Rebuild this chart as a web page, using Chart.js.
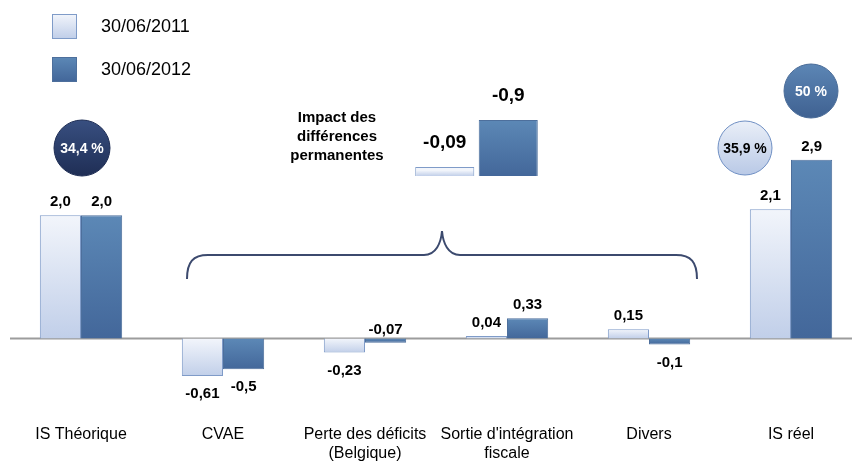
<!DOCTYPE html>
<html>
<head>
<meta charset="utf-8">
<script src="https://cdn.jsdelivr.net/npm/chart.js@4"></script>
<style>
    html, body { margin: 0; padding: 0; background: #fff; overflow: hidden; }
    #wrap { position: relative; width: 852px; height: 462px; overflow: hidden; }
    #main { position: absolute; left: 0; top: 0; }
    #impact { position: absolute; left: 413px; top: 80px; }
    #impactTitle {
        position: absolute; left: 257px; top: 107px; width: 160px;
        text-align: center; font: bold 15px 'Liberation Sans', Arial, sans-serif;
        line-height: 19px; color: #000;
    }
</style>
</head>
<body>
<div id="wrap">
    <canvas id="main" width="862" height="462"></canvas>
    <canvas id="impact" width="127" height="96"></canvas>
    <div id="impactTitle"></div>
</div>
<script>
(function () {
    'use strict';

    // Chart data
    var CATEGORIES = ['IS Théorique', 'CVAE', ['Perte des déficits', '(Belgique)'], ["Sortie d'intégration", 'fiscale'], 'Divers', 'IS réel'];
    var SERIES_NAMES = ['30/06/2011', '30/06/2012'];
    var VALUES_2011 = [2.0, -0.61, -0.23, 0.04, 0.15, 2.1];
    var VALUES_2012 = [2.0, -0.5, -0.07, 0.33, -0.1, 2.9];
    var IMPACT_VALUES = [-0.09, -0.9];
    var IMPACT_TITLE = ['Impact des', 'différences', 'permanentes'];
    var RATE_TEXTS = ['34,4 %', '35,9 %', '50 %'];

    var FONT = "'Liberation Sans', Arial, sans-serif";
    var LIGHT = { top: '#f2f5fb', bottom: '#c1cfe9', border: '#7f9bc8' };
    var DARK = { top: '#5c88b6', bottom: '#43679a', border: '#4d6f9c' };

    // Rate bubbles (pixel placement, style)
    var RATE_STYLE = [
        { x: 82, y: 148, r: 28, top: '#384f80', bottom: '#1f2e55', border: '#1f2e55', text: '#fff' },
        { x: 745, y: 148, r: 27, top: '#eaeff8', bottom: '#b9c9e6', border: '#6f8fc3', text: '#000' },
        { x: 811, y: 91, r: 27, top: '#5c86b5', bottom: '#3f6191', border: '#4a6c98', text: '#fff' }
    ];

    document.getElementById('impactTitle').innerHTML = IMPACT_TITLE.join('<br>');

    function fmt(v) {
        var s = Number.isInteger(v) ? v.toFixed(1) : String(v);
        return s.replace('.', ',');
    }

    function barFill(pal, absolute) {
        return function (ctx) {
            var chart = ctx.chart;
            if (!chart.chartArea || ctx.type !== 'data') return pal.bottom;
            var y = chart.scales.y;
            var v = absolute ? Math.abs(ctx.raw) : ctx.raw;
            var top = y.getPixelForValue(Math.max(v, 0));
            var bottom = y.getPixelForValue(Math.min(v, 0));
            if (bottom - top < 2) top = bottom - 9;
            var g = chart.ctx.createLinearGradient(0, top, 0, bottom);
            g.addColorStop(0, pal.top);
            g.addColorStop(1, pal.bottom);
            return g;
        };
    }

    function boxFill(c, pal, y, h) {
        var g = c.createLinearGradient(0, y, 0, y + h);
        g.addColorStop(0, pal.top);
        g.addColorStop(1, pal.bottom);
        return g;
    }

    var decorations = {
        id: 'decorations',
        beforeDatasetsDraw: function (chart) {
            var c = chart.ctx, a = chart.chartArea;
            var y0 = chart.scales.y.getPixelForValue(0);
            c.save();
            c.strokeStyle = '#9c9c9c';
            c.lineWidth = 2;
            c.beginPath();
            c.moveTo(a.left, y0);
            c.lineTo(a.right, y0);
            c.stroke();
            c.restore();
        },
        afterDraw: function (chart) {
            var c = chart.ctx;
            c.save();

            // value labels
            c.fillStyle = '#000';
            c.font = 'bold 15px ' + FONT;
            c.textAlign = 'center';
            c.textBaseline = 'middle';
            chart.data.datasets.forEach(function (ds, i) {
                chart.getDatasetMeta(i).data.forEach(function (el, j) {
                    var v = ds.data[j];
                    var above = v >= -0.08;
                    c.fillText(fmt(v), el.x, above ? el.y - 13 : el.y + 18);
                });
            });

            // legend
            var pals = [LIGHT, DARK];
            c.font = '18px ' + FONT;
            c.textAlign = 'left';
            SERIES_NAMES.forEach(function (name, i) {
                var bx = 52, by = 14 + i * 43;
                c.fillStyle = boxFill(c, pals[i], by, 24);
                c.fillRect(bx, by, 24, 24);
                c.strokeStyle = pals[i].border;
                c.lineWidth = 1;
                c.strokeRect(bx + 0.5, by + 0.5, 24, 24);
                c.fillStyle = '#000';
                c.fillText(name, 101, by + 13);
            });

            // rate bubbles
            c.font = 'bold 14px ' + FONT;
            c.textAlign = 'center';
            RATE_TEXTS.forEach(function (txt, i) {
                var s = RATE_STYLE[i];
                c.beginPath();
                c.arc(s.x, s.y, s.r, 0, Math.PI * 2);
                c.fillStyle = boxFill(c, s, s.y - s.r, 2 * s.r);
                c.fill();
                c.strokeStyle = s.border;
                c.lineWidth = 1;
                c.stroke();
                c.fillStyle = s.text;
                c.fillText(txt, s.x, s.y + 1);
            });

            // curly brace
            c.strokeStyle = '#3c4a6e';
            c.lineWidth = 2;
            c.beginPath();
            c.moveTo(187, 279);
            c.bezierCurveTo(187, 262, 193, 255, 208, 255);
            c.lineTo(424, 255);
            c.bezierCurveTo(436, 255, 441, 243, 442, 231);
            c.bezierCurveTo(443, 243, 448, 255, 460, 255);
            c.lineTo(676, 255);
            c.bezierCurveTo(691, 255, 697, 262, 697, 279);
            c.stroke();

            c.restore();
        }
    };

    new Chart(document.getElementById('main'), {
        type: 'bar',
        data: {
            labels: CATEGORIES,
            datasets: [{
                label: SERIES_NAMES[0],
                data: VALUES_2011,
                backgroundColor: barFill(LIGHT),
                borderColor: LIGHT.border,
                borderWidth: 1,
            }, {
                label: SERIES_NAMES[1],
                data: VALUES_2012,
                backgroundColor: barFill(DARK),
                borderColor: DARK.border,
                borderWidth: 1,
            }],
        },
        options: {
            responsive: false,
            animation: false,
            categoryPercentage: 0.58,
            barPercentage: 1.0,
            layout: { padding: { left: 10, right: 0, top: 0, bottom: 0 } },
            plugins: {
                legend: { display: false },
                tooltip: { enabled: false },
            },
            scales: {
                x: {
                    grid: { display: false, drawTicks: false },
                    border: { display: false },
                    ticks: {
                        color: '#000',
                        font: { family: FONT, size: 16 },
                        padding: -1,
                        maxRotation: 0,
                        autoSkip: false,
                    },
                },
                y: {
                    display: false,
                    min: -1.415,
                    max: 5.496,
                },
            },
        },
        plugins: [decorations],
    });

    // Inset: impact of permanent differences
    var impactLabels = {
        id: 'impactLabels',
        afterDraw: function (chart) {
            var c = chart.ctx;
            c.save();
            c.fillStyle = '#000';
            c.font = 'bold 19px ' + FONT;
            c.textAlign = 'center';
            c.textBaseline = 'middle';
            chart.getDatasetMeta(0).data.forEach(function (el, j) {
                c.fillText(fmt(IMPACT_VALUES[j]), el.x, el.y - 24);
            });
            c.restore();
        }
    };

    var lightFill = barFill(LIGHT, true);
    var darkFill = barFill(DARK, true);

    new Chart(document.getElementById('impact'), {
        type: 'bar',
        data: {
            labels: SERIES_NAMES,
            datasets: [{
                data: IMPACT_VALUES.map(function (v) { return Math.abs(v); }),
                backgroundColor: function (ctx) { return ctx.dataIndex === 0 ? lightFill(ctx) : darkFill(ctx); },
                borderColor: [LIGHT.border, DARK.border],
                borderWidth: 1,
                minBarLength: 9,
            }],
        },
        options: {
            responsive: false,
            animation: false,
            categoryPercentage: 0.93,
            barPercentage: 1.0,
            layout: { padding: 0 },
            plugins: {
                legend: { display: false },
                tooltip: { enabled: false },
            },
            scales: {
                x: { display: false },
                y: { display: false, min: 0, max: 1.54 },
            },
        },
        plugins: [impactLabels],
    });
})();
</script>
</body>
</html>
